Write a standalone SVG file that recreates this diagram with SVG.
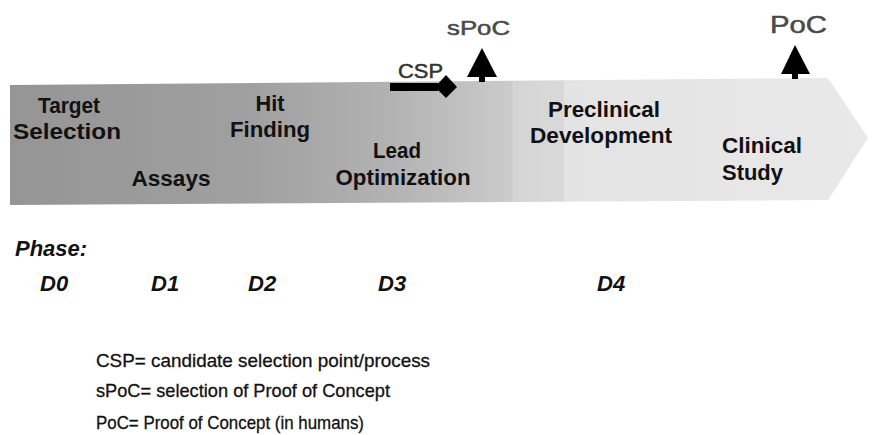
<svg xmlns="http://www.w3.org/2000/svg" width="874" height="435" viewBox="0 0 874 435">
<defs>
<linearGradient id="barGrad" gradientUnits="userSpaceOnUse" x1="10" y1="0" x2="868" y2="0">
<stop offset="0" stop-color="#959595"/>
<stop offset="0.28" stop-color="#a0a0a0"/>
<stop offset="0.45" stop-color="#b3b3b3"/>
<stop offset="0.585" stop-color="#cbcbcb"/>
<stop offset="0.586" stop-color="#d4d4d4"/>
<stop offset="0.645" stop-color="#d9d9d9"/>
<stop offset="0.646" stop-color="#e3e3e3"/>
<stop offset="1" stop-color="#e9e9e9"/>
</linearGradient>
<style>
.lbl{font-family:"Liberation Sans",Arial,sans-serif;font-weight:bold;font-size:22px;fill:#111;}
.mark{font-family:"Liberation Sans",Arial,sans-serif;font-size:20px;fill:#4a4a4a;stroke:#4a4a4a;stroke-width:0.5px;}
.phase{font-family:"Liberation Sans",Arial,sans-serif;font-weight:bold;font-style:italic;font-size:22px;fill:#111;}
.note{font-family:"Liberation Sans",Arial,sans-serif;font-size:19px;fill:#111;stroke:#111;stroke-width:0.3px;}
</style>
</defs>

<g id="bar">
<polygon points="10,85 828,78 868,138 828,200 10,205" fill="url(#barGrad)"/>
</g>

<g id="target-selection">
<text class="lbl" x="69" y="113" text-anchor="middle" textLength="62" lengthAdjust="spacingAndGlyphs">Target</text>
<text class="lbl" x="67" y="139" text-anchor="middle" textLength="108" lengthAdjust="spacingAndGlyphs">Selection</text>
</g>
<g id="assays">
<text class="lbl" x="171" y="186" text-anchor="middle" textLength="79" lengthAdjust="spacingAndGlyphs">Assays</text>
</g>
<g id="hit-finding">
<text class="lbl" x="270" y="111" text-anchor="middle" textLength="29" lengthAdjust="spacingAndGlyphs">Hit</text>
<text class="lbl" x="270" y="137" text-anchor="middle" textLength="80" lengthAdjust="spacingAndGlyphs">Finding</text>
</g>
<g id="lead-optimization">
<text class="lbl" x="397" y="158" text-anchor="middle" textLength="48" lengthAdjust="spacingAndGlyphs">Lead</text>
<text class="lbl" x="403" y="185" text-anchor="middle" textLength="135" lengthAdjust="spacingAndGlyphs">Optimization</text>
</g>
<g id="preclinical-development">
<text class="lbl" x="604" y="117" text-anchor="middle" textLength="112" lengthAdjust="spacingAndGlyphs">Preclinical</text>
<text class="lbl" x="601" y="143" text-anchor="middle" textLength="142" lengthAdjust="spacingAndGlyphs">Development</text>
</g>
<g id="clinical-study">
<text class="lbl" x="722" y="153" textLength="80" lengthAdjust="spacingAndGlyphs">Clinical</text>
<text class="lbl" x="722" y="180" textLength="61" lengthAdjust="spacingAndGlyphs">Study</text>
</g>

<g id="csp">
<text class="mark" x="398" y="78" style="fill:#333;stroke:#333" textLength="45" lengthAdjust="spacingAndGlyphs">CSP</text>
<rect x="390" y="83" width="48" height="8" fill="#000"/>
<polygon points="435,87 446,75 457,87 446,98" fill="#000"/>
</g>
<g id="spoc">
<text class="mark" x="447" y="35" textLength="63" lengthAdjust="spacingAndGlyphs">sPoC</text>
<polygon points="482,48 467,77 497,77" fill="#000"/>
<rect x="479" y="76" width="6" height="6" fill="#000"/>
</g>
<g id="poc">
<text class="mark" x="770" y="33" style="font-size:24px" textLength="57" lengthAdjust="spacingAndGlyphs">PoC</text>
<polygon points="795,45 781,74 810,74" fill="#000"/>
<rect x="792" y="73" width="6" height="6" fill="#000"/>
</g>

<g id="phases">
<text class="phase" x="15" y="256">Phase:</text>
<text class="phase" x="40" y="291">D0</text>
<text class="phase" x="151" y="291">D1</text>
<text class="phase" x="248" y="291">D2</text>
<text class="phase" x="378" y="291">D3</text>
<text class="phase" x="597" y="291">D4</text>
</g>

<g id="legend">
<text class="note" x="96" y="367" textLength="334" lengthAdjust="spacingAndGlyphs">CSP= candidate selection point/process</text>
<text class="note" x="96" y="397" textLength="294" lengthAdjust="spacingAndGlyphs">sPoC= selection of Proof of Concept</text>
<text class="note" x="96" y="429" textLength="268" lengthAdjust="spacingAndGlyphs">PoC= Proof of Concept (in humans)</text>
</g>
</svg>
